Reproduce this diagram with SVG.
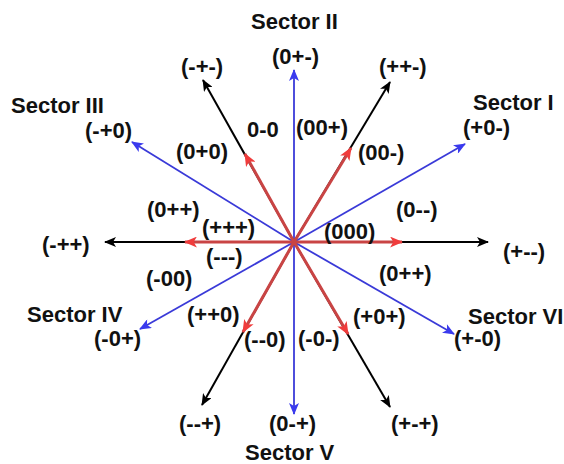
<svg xmlns="http://www.w3.org/2000/svg" width="564" height="464" viewBox="0 0 564 464">
<defs>
<style>
text{font-family:"Liberation Sans",Arial,sans-serif;font-weight:bold;font-size:22px;fill:#111}
.k{stroke:#000;stroke-width:2;fill:none;marker-end:url(#ak)}
.b{stroke:#3a3ad8;stroke-width:1.8;fill:none;marker-end:url(#ab)}
.r{stroke:#c94444;stroke-width:3;fill:none;marker-end:url(#ar)}
</style>
<marker id="ak" viewBox="0 0 12 10" refX="11" refY="5" markerWidth="12" markerHeight="10" markerUnits="userSpaceOnUse" orient="auto"><path d="M0,0 L12,5 L0,10 L3,5 Z" fill="#000"/></marker>
<marker id="ab" viewBox="0 0 12 10" refX="11" refY="5" markerWidth="13" markerHeight="10" markerUnits="userSpaceOnUse" orient="auto"><path d="M0,0 L12,5 L0,10 L3,5 Z" fill="#3a3aee"/></marker>
<marker id="ar" viewBox="0 0 12 10" refX="11" refY="5" markerWidth="13" markerHeight="11" markerUnits="userSpaceOnUse" orient="auto"><path d="M0,0 L12,5 L0,10 L3,5 Z" fill="#f03c3c"/></marker>
</defs>
<rect width="564" height="464" fill="#fff"/>
<g id="connectors">
<line class="b" x1="294" y1="242" x2="294" y2="70"/>
<line class="b" x1="294" y1="242" x2="294" y2="414"/>
<line class="b" x1="294" y1="242" x2="465" y2="144"/>
<line class="b" x1="294" y1="242" x2="132" y2="142"/>
<line class="b" x1="294" y1="242" x2="140" y2="329"/>
<line class="b" x1="294" y1="242" x2="454" y2="334"/>
<line class="k" x1="294" y1="242" x2="488" y2="242"/>
<line class="k" x1="294" y1="242" x2="105" y2="242"/>
<line class="k" x1="294" y1="242" x2="390" y2="82"/>
<line class="k" x1="294" y1="242" x2="203" y2="80"/>
<line class="k" x1="294" y1="242" x2="202" y2="405"/>
<line class="k" x1="294" y1="242" x2="390" y2="407"/>
<line class="r" x1="294" y1="242" x2="402" y2="242"/>
<line class="r" x1="294" y1="242" x2="185" y2="242"/>
<line class="r" x1="294" y1="242" x2="351" y2="148"/>
<line class="r" x1="294" y1="242" x2="245" y2="154"/>
<line class="r" x1="294" y1="242" x2="243" y2="332"/>
<line class="r" x1="294" y1="242" x2="348" y2="334"/>
</g>
<g id="sector-II"><text x="251" y="29">Sector II</text><text x="272" y="64">(0+-)</text></g>
<g id="sector-I"><text x="473" y="110">Sector I</text><text x="463" y="135">(+0-)</text></g>
<g id="sector-III"><text x="11" y="113">Sector III</text><text x="85" y="138">(-+0)</text></g>
<g id="sector-IV"><text x="27" y="322">Sector IV</text><text x="94" y="346">(-0+)</text></g>
<g id="sector-V"><text x="269" y="431">(0-+)</text><text x="245" y="460">Sector V</text></g>
<g id="sector-VI"><text x="468" y="324">Sector VI</text><text x="454" y="346">(+-0)</text></g>
<g id="v-mpm"><text x="181" y="74">(-+-)</text></g>
<g id="v-ppm"><text x="379" y="74">(++-)</text></g>
<g id="v-mpp"><text x="42" y="252">(-++)</text></g>
<g id="v-pmm"><text x="503" y="259">(+--)</text></g>
<g id="v-mmp"><text x="179" y="431">(--+)</text></g>
<g id="v-pmp"><text x="391" y="431">(+-+)</text></g>
<g id="small-ul"><text x="247" y="137">0-0</text><text x="176" y="159">(0+0)</text></g>
<g id="small-ur"><text x="296" y="135">(00+)</text><text x="358" y="160">(00-)</text></g>
<g id="small-l"><text x="147" y="217">(0++)</text><text x="202" y="235">(+++)</text><text x="206" y="264">(---)</text><text x="146" y="286">(-00)</text></g>
<g id="small-r"><text x="396" y="217">(0--)</text><text x="324" y="239">(000)</text><text x="379" y="281">(0++)</text></g>
<g id="small-ll"><text x="187" y="322">(++0)</text><text x="244" y="347">(--0)</text></g>
<g id="small-lr"><text x="353" y="324">(+0+)</text><text x="298" y="346">(-0-)</text></g>
</svg>
